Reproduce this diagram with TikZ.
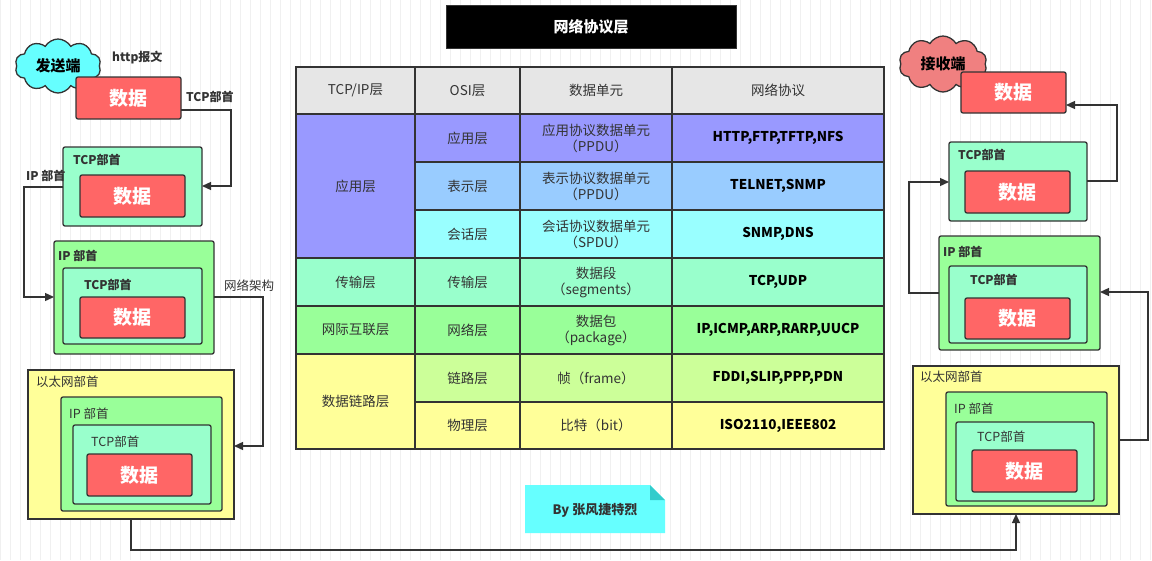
\documentclass[tikz,border=0pt]{standalone}
\usepackage{fontspec}
\setmainfont{Noto Sans CJK SC}
\usetikzlibrary{arrows.meta,shapes.symbols}
\definecolor{red1}{HTML}{FF6666}
\definecolor{mint}{HTML}{99FFCC}
\definecolor{grn}{HTML}{99FF99}
\definecolor{yel}{HTML}{FFFF99}
\definecolor{pur}{HTML}{9999FF}
\definecolor{blu}{HTML}{99CCFF}
\definecolor{cya}{HTML}{99FFFF}
\definecolor{lim}{HTML}{CCFF99}
\definecolor{hdr}{HTML}{E6E6E6}
\definecolor{ln}{HTML}{333333}
\definecolor{aqua}{HTML}{66FFFF}
\definecolor{aquad}{HTML}{33CCCC}
\definecolor{pink}{HTML}{F08080}
\newcommand\bx[7][2pt]{\node[box,rounded corners=#1,fill=#7,minimum width={(#5-#3)*1pt},minimum height={(#6-#4)*1pt}] (#2) at ({(#3+#5)/2},{(#4+#6)/2}) {};}
\newcommand\cell[6]{\node[cellbox,fill=#6,minimum width={(#4-#2)*1pt},minimum height={(#5-#3)*1pt}] (#1) at ({(#2+#4)/2},{(#3+#5)/2}) {};}
\begin{document}
\begin{tikzpicture}[x=1pt,y=-1pt,
  box/.style={draw=ln,line width=1.3pt,inner sep=0pt,outer sep=0pt},
  cellbox/.style={draw=ln,line width=1.4pt,inner sep=0pt,outer sep=0pt},
  data/.style={text=white,font=\fontsize{19}{19}\selectfont\bfseries},
  lbl/.style={anchor=west,inner sep=0pt,font=\fontsize{12}{12}\selectfont\bfseries,text=ln},
  lbr/.style={anchor=west,inner sep=0pt,font=\fontsize{12.5}{12}\selectfont,text=ln},
  tt/.style={font=\fontsize{13.5}{16}\selectfont,text=ln,align=center},
  tb/.style={font=\fontsize{13.5}{16}\selectfont\bfseries,text=black,align=center},
  arr/.style={draw=ln,line width=1.3pt,-{Triangle[length=9pt,width=8pt]}}]
\useasboundingbox (0,0) rectangle (1152,560);
\fill[white] (0,0) rectangle (1152,560);
\draw[black!6,line width=0.5pt,step=10] (0,0) grid (1152,560);
% title
\node[fill=black,draw=ln,minimum width=290pt,minimum height=43pt,text=white,font=\fontsize{15}{15}\selectfont\bfseries] (title) at (591,26.5) {网络协议层};
% table
\cell{h1}{296}{67}{415}{114}{hdr}\cell{h2}{415}{67}{520}{114}{hdr}\cell{h3}{520}{67}{672}{114}{hdr}\cell{h4}{672}{67}{884}{114}{hdr}
\cell{a0}{296}{114}{415}{258}{pur}
\cell{a1}{415}{114}{520}{162}{pur}\cell{a2}{520}{114}{672}{162}{pur}\cell{a3}{672}{114}{884}{162}{pur}
\cell{b1}{415}{162}{520}{210}{blu}\cell{b2}{520}{162}{672}{210}{blu}\cell{b3}{672}{162}{884}{210}{blu}
\cell{c1}{415}{210}{520}{258}{cya}\cell{c2}{520}{210}{672}{258}{cya}\cell{c3}{672}{210}{884}{258}{cya}
\cell{d0}{296}{258}{415}{306}{mint}\cell{d1}{415}{258}{520}{306}{mint}\cell{d2}{520}{258}{672}{306}{mint}\cell{d3}{672}{258}{884}{306}{mint}
\cell{e0}{296}{306}{415}{354}{grn}\cell{e1}{415}{306}{520}{354}{grn}\cell{e2}{520}{306}{672}{354}{grn}\cell{e3}{672}{306}{884}{354}{grn}
\cell{f0}{296}{354}{415}{449}{yel}
\cell{f1}{415}{354}{520}{402}{lim}\cell{f2}{520}{354}{672}{402}{lim}\cell{f3}{672}{354}{884}{402}{lim}
\cell{g1}{415}{402}{520}{449}{yel}\cell{g2}{520}{402}{672}{449}{yel}\cell{g3}{672}{402}{884}{449}{yel}
\node[tt] at (h1) {TCP/IP层};\node[tt] at (h2) {OSI层};\node[tt] at (h3) {数据单元};\node[tt] at (h4) {网络协议};
\node[tt] at (a0) {应用层};
\node[tt] at (a1) {应用层};\node[tt] at (a2) {应用协议数据单元\\（PPDU）};\node[tb] at (a3) {HTTP,FTP,TFTP,NFS};
\node[tt] at (b1) {表示层};\node[tt] at (b2) {表示协议数据单元\\（PPDU）};\node[tb] at (b3) {TELNET,SNMP};
\node[tt] at (c1) {会话层};\node[tt] at (c2) {会话协议数据单元\\（SPDU）};\node[tb] at (c3) {SNMP,DNS};
\node[tt] at (d0) {传输层};\node[tt] at (d1) {传输层};\node[tt] at (d2) {数据段\\（segments）};\node[tb] at (d3) {TCP,UDP};
\node[tt] at (e0) {网际互联层};\node[tt] at (e1) {网络层};\node[tt] at (e2) {数据包\\（package）};\node[tb] at (e3) {IP,ICMP,ARP,RARP,UUCP};
\node[tt] at (f0) {数据链路层};
\node[tt] at (f1) {链路层};\node[tt] at (f2) {帧（frame）};\node[tb] at (f3) {FDDI,SLIP,PPP,PDN};
\node[tt] at (g1) {物理层};\node[tt] at (g2) {比特（bit）};\node[tb] at (g3) {ISO2110,IEEE802};
% ---------- left (sender)
\node[cloud,cloud puffs=10,cloud puff arc=120,aspect=1.6,draw=ln,line width=1.3pt,fill=aqua,minimum width=86pt,minimum height=54pt,font=\fontsize{15}{15}\selectfont\bfseries,text=black,inner sep=0pt] (send) at (58,66) {发送端};
\node[lbl] (http) at (112,58) {http报文};
\bx{L0}{76}{77}{181}{119}{red1}\node[data] at (L0) {数据};
\node[lbl] at (186,97) {TCP部首};
\bx{L1}{63}{147}{202}{226}{mint}\node[lbl] at (73,160) {TCP部首};
\bx{L1r}{80}{175}{185}{217}{red1}\node[data] at (L1r) {数据};
\node[lbl] at (26,176) {IP 部首};
\bx{L2}{54}{241}{214}{354}{grn}\node[lbl] at (58,256) {IP 部首};
\bx{L2t}{63}{268}{202}{344}{mint}\node[lbl] at (84,285) {TCP部首};
\bx{L2r}{80}{297}{185}{338}{red1}\node[data] at (L2r) {数据};
\node[lbr] at (224,286) {网络架构};
\bx[0pt]{L3}{28}{370}{234}{519}{yel}\node[lbr] at (36,382) {以太网部首};
\bx{L3i}{61}{397}{222}{511}{grn}\node[lbr] at (69,414) {IP 部首};
\bx{L3t}{73}{425}{211}{504}{mint}\node[lbr] at (91,442) {TCP部首};
\bx{L3r}{87}{454}{192}{496}{red1}\node[data] at (L3r) {数据};
\draw[arr] (L0.east|-0,110) -| (231,186) -- (L1.east|-0,186);
\draw[arr] (L1.west|-0,187) -| (24,297) -- (L2.west|-0,297);
\draw[arr] (L2.east|-0,297) -| (263,446) -- (L3.east|-0,446);
% ---------- right (receiver)
\node[cloud,cloud puffs=10,cloud puff arc=120,aspect=1.6,draw=ln,line width=1.3pt,fill=pink,minimum width=88pt,minimum height=56pt,font=\fontsize{15}{15}\selectfont\bfseries,text=black,inner sep=0pt] (recv) at (943,64) {接收端};
\bx{R0}{961}{72}{1066}{113}{red1}\node[data] at (R0) {数据};
\bx{R1}{949}{142}{1087}{221}{mint}\node[lbl] at (958,155) {TCP部首};
\bx{R1r}{965}{171}{1070}{213}{red1}\node[data] at (R1r) {数据};
\bx{R2}{939}{236}{1100}{350}{grn}\node[lbl] at (943,252) {IP 部首};
\bx{R2t}{949}{266}{1087}{343}{mint}\node[lbl] at (970,280) {TCP部首};
\bx{R2r}{965}{298}{1070}{339}{red1}\node[data] at (R2r) {数据};
\bx[0pt]{R3}{913}{366}{1119}{514}{yel}\node[lbr] at (920,377) {以太网部首};
\bx{R3i}{946}{392}{1107}{506}{grn}\node[lbr] at (954,409) {IP 部首};
\bx{R3t}{956}{422}{1094}{501}{mint}\node[lbr] at (977,437) {TCP部首};
\bx{R3r}{972}{450}{1077}{492}{red1}\node[data] at (R3r) {数据};
\draw[arr] (L3.south) -- (131,550) -| (R3.south-|1016,0);
\draw[arr] (R3.east|-0,440) -| (1148,292) -- (R2.east|-0,292);
\draw[arr] (R2.west|-0,293) -| (909,182) -- (R1.west|-0,182);
\draw[arr] (R1.east|-0,181) -| (1117,105) -- (R0.east|-0,105);
% note
\fill[aqua] (525,485) -- (650,485) -- (665,500) -- (665,533) -- (525,533) -- cycle;
\fill[aquad] (650,485) -- (665,500) -- (650,500) -- cycle;
\node[font=\fontsize{13}{13}\selectfont\bfseries,text=ln] (by) at (595,510) {By 张风捷特烈};
\end{tikzpicture}
\end{document}
